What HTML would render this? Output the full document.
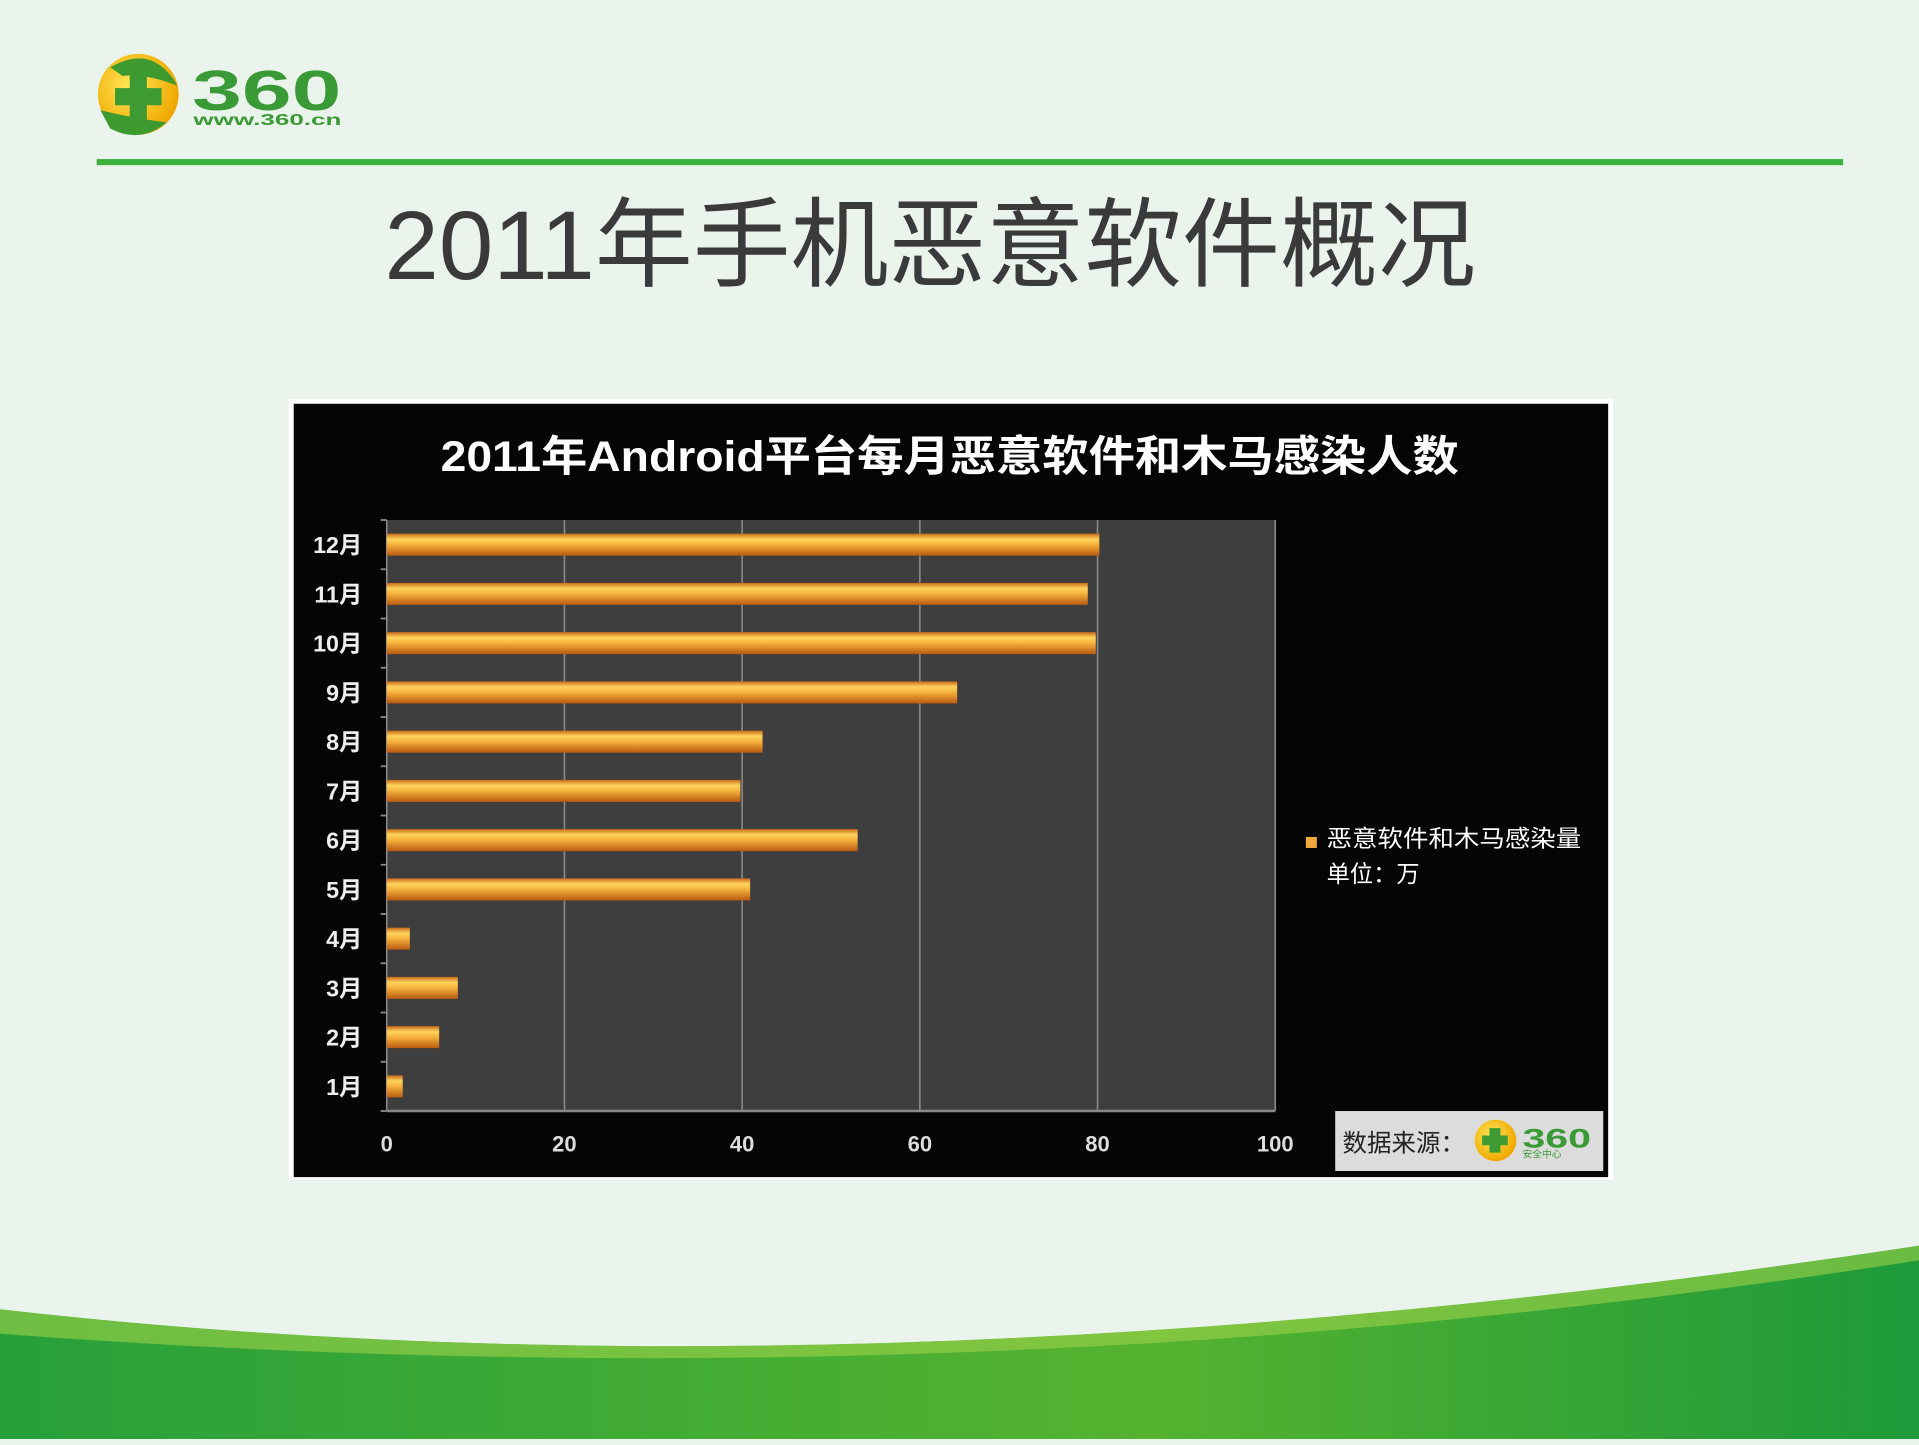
<!DOCTYPE html>
<html><head><meta charset="utf-8"><style>
html,body{margin:0;padding:0;width:1919px;height:1439px;overflow:hidden;background:#ebf4ec;}
#wrap{position:absolute;left:0;top:0;width:1568px;height:1176px;transform:scale(1.22385,1.2236);transform-origin:0 0;font-family:"Liberation Sans","Noto Sans CJK SC",sans-serif;}
</style></head><body>
<div id="wrap">
<svg width="1568" height="1176" viewBox="0 0 1568 1176">
<defs>
<linearGradient id="bar" x1="0" y1="0" x2="0" y2="1">
<stop offset="0" stop-color="#c86a1a"/><stop offset="0.25" stop-color="#ffd45c"/><stop offset="0.5" stop-color="#f6b23c"/><stop offset="1" stop-color="#b85a10"/></linearGradient>
<linearGradient id="sw" x1="0" y1="0" x2="1" y2="0"><stop offset="0" stop-color="#27a03a"/><stop offset="0.6" stop-color="#55b330"/><stop offset="1" stop-color="#1d9a3a"/></linearGradient>
<radialGradient id="ball" cx="0.4" cy="0.4" r="0.6"><stop offset="0" stop-color="#ffe95a"/><stop offset="1" stop-color="#f0a800"/></radialGradient>
</defs>
<path d="M0 1070 Q700 1150 1568 1018 L1568 1176 L0 1176 Z" fill="url(#sw)"/>
<path d="M0 1070 Q700 1150 1568 1018 L1568 1030 Q800 1150 0 1090 Z" fill="#9fd24a" opacity="0.6"/>
<g>
<circle cx="113" cy="77" r="33" fill="url(#ball)"/>
<path d="M90 55 Q125 35 145 70 Q120 60 100 62 Z" fill="#3c9a2e"/>
<path d="M82 90 Q105 96 136 100 Q115 118 90 105 Z" fill="#3c9a2e"/>
<path d="M106 60 h14 v12 h12 v14 h-12 v12 h-14 v-12 h-12 v-14 h12 Z" fill="#3e9b34"/>
<text x="157" y="90" font-size="46" font-weight="bold" fill="#3a9a35" font-family="Liberation Sans, sans-serif" textLength="122" lengthAdjust="spacingAndGlyphs">360</text>
<text x="158" y="102" font-size="13" font-weight="bold" fill="#3a9a35" textLength="121" lengthAdjust="spacingAndGlyphs">www.360.cn</text>
</g>
<rect x="79" y="130" width="1427" height="5" fill="#3bb03a"/>
<text x="760" y="228" font-size="80" fill="#3a3a3a" text-anchor="middle">2011年手机恶意软件概况</text>
<rect x="236" y="326" width="1082" height="638" fill="#fff"/>
<rect x="240" y="330" width="1074" height="632" fill="#050505"/>
<text x="360" y="385" font-size="35" font-weight="bold" fill="#fff" textLength="832" lengthAdjust="spacingAndGlyphs">2011年Android平台每月恶意软件和木马感染人数</text>
<rect x="316" y="425" width="726" height="483" fill="#3e3e3e"/>
<g id="grid"></g><g id="bars"></g><g id="axes"></g>
<rect x="1067" y="684" width="9" height="9" fill="#f2a83a"/>
<text x="1084" y="692" font-size="19" fill="#fff" textLength="208" lengthAdjust="spacingAndGlyphs">恶意软件和木马感染量</text>
<text x="1084" y="721" font-size="19" fill="#fff">单位：万</text>
<rect x="1091" y="908" width="219" height="49" fill="#dcdcdc"/>
<text x="1097" y="941" font-size="20" fill="#222">数据来源：</text>
<circle cx="1222" cy="932" r="17" fill="url(#ball)"/>
<path d="M1217 922 h9 v6 h6 v8 h-6 v6 h-9 v-6 h-6 v-8 h6 Z" fill="#3e9b34"/>
<text x="1244" y="938" font-size="22" font-weight="bold" fill="#3a9a35" textLength="56" lengthAdjust="spacingAndGlyphs">360</text>
<text x="1244" y="946" font-size="8" fill="#3a9a35">安全中心</text>
</svg>
</div>
<script>
const categories=["1月","2月","3月","4月","5月","6月","7月","8月","9月","10月","11月","12月"];
const values=[1.8,5.9,8,2.6,40.9,53,39.8,42.3,64.2,79.8,78.9,80.2];
const ticks=[0,20,40,60,80,100];
const NS="http://www.w3.org/2000/svg";
const X0=316,X1=1042,Y0=425,Y1=908,XMAX=100;
const xs=v=>X0+(X1-X0)*v/XMAX;
const band=(Y1-Y0)/categories.length;
const ys=i=>Y1-band*(i+0.5);
function mk(tag,attrs,parent){const e=document.createElementNS(NS,tag);for(const k in attrs)e.setAttribute(k,attrs[k]);document.getElementById(parent).appendChild(e);return e;}
ticks.forEach(t=>{
 const l=mk("line",{x1:xs(t),x2:xs(t),y1:Y0,y2:Y1,stroke:"#8a8a8a","stroke-width":1.3},"grid");
 
 
 const tx=mk("text",{x:xs(t),y:941,"font-size":18,"font-weight":"bold",fill:"#ddd","text-anchor":"middle"},"axes");
 tx.textContent=t;
 
 
});
mk("line",{x1:X0,x2:X1,y1:Y1,y2:Y1,stroke:"#888","stroke-width":2},"axes");
for(let i=0;i<=categories.length;i++){mk("line",{x1:X0-5,x2:X0,y1:Y1-band*i,y2:Y1-band*i,stroke:"#888","stroke-width":1.5},"axes");}
categories.forEach((c,i)=>{
 const r=mk("rect",{x:X0,y:ys(i)-9,width:xs(values[i])-X0,height:18,fill:"url(#bar)"},"bars");
 
 
 const t=mk("text",{x:296,y:ys(i)+7,"font-size":19,"font-weight":"bold",fill:"#eee","text-anchor":"end"},"axes");
 t.textContent=c;
 
 
});
</script>
</body></html>
